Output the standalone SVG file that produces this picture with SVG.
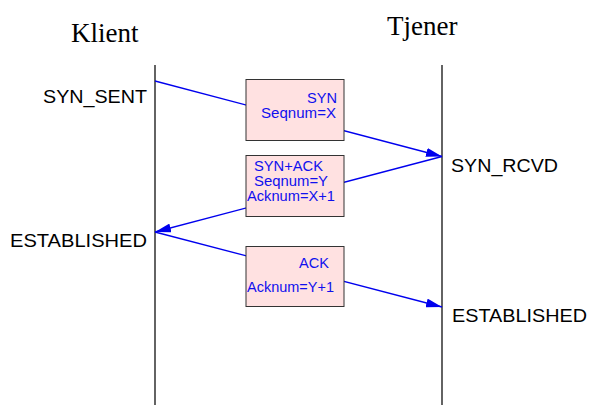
<svg xmlns="http://www.w3.org/2000/svg" width="589" height="405" viewBox="0 0 589 405">
  <style>
    .life { stroke: #222; stroke-width: 1.4; fill: none; }
    .title { font-family: "Liberation Serif", serif; font-size: 27px; fill: #000; }
    .state { font-family: "Liberation Sans", Arial, sans-serif; font-size: 19px; fill: #000; }
    .msg { fill: #ffe1e1; stroke: #333; stroke-width: 1; }
    .msgtext { font-family: "Liberation Sans", Arial, sans-serif; font-size: 14px; fill: #1010ee; }
    .conn { stroke: #0000ee; stroke-width: 1.3; fill: none; marker-end: url(#arrow); }
  </style>
  <defs>
    <marker id="arrow" viewBox="0 0 16 9" refX="16" refY="4.5" markerWidth="16" markerHeight="9" markerUnits="userSpaceOnUse" orient="auto">
      <path d="M0,0 L16,4.5 L0,9 Z" fill="#0000ee"/>
    </marker>
  </defs>
  <rect width="589" height="405" fill="#fff"/>

  <g id="klient">
    <text class="title" x="71" y="42">Klient</text>
    <line class="life" x1="155" y1="65" x2="155" y2="405"/>
  </g>
  <g id="tjener">
    <text class="title" x="387" y="35">Tjener</text>
    <line class="life" x1="442" y1="65" x2="442" y2="405"/>
  </g>

  <g id="states">
    <text class="state" x="43" y="103" textLength="104" lengthAdjust="spacingAndGlyphs">SYN_SENT</text>
    <text class="state" x="10" y="247" textLength="137" lengthAdjust="spacingAndGlyphs">ESTABLISHED</text>
    <text class="state" x="451" y="172" textLength="107" lengthAdjust="spacingAndGlyphs">SYN_RCVD</text>
    <text class="state" x="452" y="322" textLength="135" lengthAdjust="spacingAndGlyphs">ESTABLISHED</text>
  </g>

  <g id="connectors">
    <line class="conn" x1="155" y1="81" x2="442" y2="156.5"/>
    <line class="conn" x1="442" y1="156.5" x2="155" y2="232"/>
    <line class="conn" x1="155" y1="232" x2="442" y2="307"/>
  </g>

  <g id="syn">
    <rect class="msg" x="246" y="79.5" width="98" height="61"/>
    <text class="msgtext" x="307" y="103" textLength="30" lengthAdjust="spacingAndGlyphs">SYN</text>
    <text class="msgtext" x="261" y="118" textLength="75" lengthAdjust="spacingAndGlyphs">Seqnum=X</text>
  </g>
  <g id="synack">
    <rect class="msg" x="246" y="155.5" width="98" height="61"/>
    <text class="msgtext" x="254" y="171" textLength="69" lengthAdjust="spacingAndGlyphs">SYN+ACK</text>
    <text class="msgtext" x="254" y="186" textLength="74" lengthAdjust="spacingAndGlyphs">Seqnum=Y</text>
    <text class="msgtext" x="247" y="201" textLength="88" lengthAdjust="spacingAndGlyphs">Acknum=X+1</text>
  </g>
  <g id="ack">
    <rect class="msg" x="246" y="246.5" width="98" height="60"/>
    <text class="msgtext" x="299" y="268" textLength="30" lengthAdjust="spacingAndGlyphs">ACK</text>
    <text class="msgtext" x="247" y="292" textLength="87" lengthAdjust="spacingAndGlyphs">Acknum=Y+1</text>
  </g>
</svg>
